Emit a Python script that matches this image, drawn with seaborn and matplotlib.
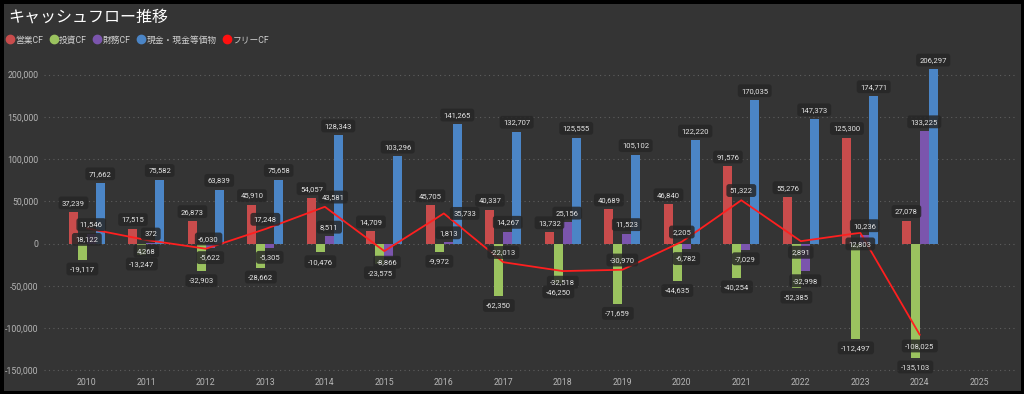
import numpy as np
import pandas as pd
import matplotlib
matplotlib.use("Agg")
import matplotlib.pyplot as plt
from matplotlib.lines import Line2D
import seaborn as sns

# データ (単位: 百万円)
years = [str(y) for y in range(2010, 2026)]
data_years = years[:-1]  # 2025 はまだデータなし
operating_cf = [37239, 17515, 26873, 45910, 54057, 14709, 45705, 40337,
                13732, 40689, 46840, 91576, 55276, 125300, 27078]
investing_cf = [-19117, -13247, -32903, -28662, -10476, -23575, -9972, -62350,
                -46250, -71659, -44635, -40254, -52385, -112497, -135103]
financing_cf = [11546, 372, -5622, -5305, 8511, -15800, 1813, 14267,
                25156, 11523, -6782, -7029, -32998, 10236, 133225]
cash = [71662, 75582, 63839, 75658, 128343, 103296, 141265, 132707,
        125555, 105102, 122220, 170035, 147373, 174771, 206297]
free_cf = [18122, 4268, -6030, 17248, 43581, -8866, 35733, -22013,
           -32518, -30970, 2205, 51322, 2891, 12803, -108025]

kinds = ["営業CF", "投資CF", "財務CF", "現金・現金等価物"]
colors = ["#c94c4c", "#9bc35f", "#7b55ad", "#4b85c6"]
line_color = "#ff1f1f"

df = pd.DataFrame({
    "年度": data_years * 4,
    "区分": np.repeat(kinds, len(data_years)),
    "金額": operating_cf + investing_cf + financing_cf + cash,
})

# ラベルの位置 (フリーCF) : 点からのずれ (points)
free_offsets = [(0, -8), (0, -8), (2, 7), (0, 7), (6, 7), (2, -8), (15, 0), (0, 7),
                (0, -8), (0, 7), (0, 7), (0, 7), (0, -8), (0, -8), (0, -8)]
hidden_labels = {("財務CF", "2015")}

bg = "#343434"
sns.set_theme(style="dark")
plt.rcParams["font.family"] = ["Roboto", "Noto Sans CJK JP", "DejaVu Sans"]

fig = plt.figure(figsize=(10.24, 3.94), dpi=100, facecolor=bg)
fig.patch.set_edgecolor("black")
fig.patch.set_linewidth(5)
ax = fig.add_axes([44 / 1024, 22 / 394, (1015 - 44) / 1024, (372 - 62) / 394])
ax.set_facecolor(bg)

sns.barplot(data=df, x="年度", y="金額", hue="区分", order=years, hue_order=kinds,
            palette=colors, width=0.6, saturation=1, ax=ax, legend=False,
            errorbar=None, linewidth=0, edgecolor="none")

box = dict(boxstyle="round,pad=0.45,rounding_size=0.35", fc="#272727", ec="none", alpha=0.85)
for kind, cont in zip(kinds, ax.containers):
    labels = []
    for yr, bar in zip(data_years, cont):
        h = bar.get_height()
        labels.append("" if (kind, yr) in hidden_labels or np.isnan(h) else f"{h:,.0f}")
    ax.bar_label(cont, labels=labels, padding=4.5, fontsize=5.5, color="#e6e6e6", bbox=box)

xs = np.arange(len(data_years))
sns.lineplot(x=xs, y=free_cf, color=line_color, linewidth=1.3, ax=ax)
for x, v, (dx, dy) in zip(xs, free_cf, free_offsets):
    ax.annotate(f"{v:,.0f}", (x, v), xytext=(dx, dy), textcoords="offset points",
                ha="center", va="center", fontsize=5.5, color="#e6e6e6", bbox=box)

ax.set_xlim(-0.72, 15.6)
ax.set_ylim(-152000, 215000)
ax.set_yticks(np.arange(-150000, 200001, 50000))
ax.set_yticklabels([f"{v:,}" for v in range(-150000, 200001, 50000)])
ax.yaxis.grid(True, linestyle=(0, (1, 3)), color="#5e5e5e", linewidth=0.8)
ax.xaxis.grid(False)
ax.set_axisbelow(True)
ax.set_xlabel("")
ax.set_ylabel("")
ax.tick_params(axis="both", length=0, labelsize=6.3, colors="#b5b5b5", pad=4)
for s in ax.spines.values():
    s.set_visible(False)

fig.text(8 / 1024, 1 - 17 / 394, "キャッシュフロー推移", fontsize=11.5, color="white",
         va="center", ha="left")

handles = [Line2D([], [], marker="o", ls="", markersize=6, color=c) for c in colors]
handles.append(Line2D([], [], marker="o", ls="", markersize=6, color="#ff1010"))
fig.legend(handles, kinds + ["フリーCF"], loc="center left",
           bbox_to_anchor=(2 / 1024, 1 - 40 / 394), ncol=5, frameon=False,
           fontsize=6.3, labelcolor="#d0d0d0", handletextpad=0.1, columnspacing=0.7,
           handlelength=1.0, borderaxespad=0)

fig.savefig("out.png", dpi=100, facecolor=fig.get_facecolor(), edgecolor="black")
